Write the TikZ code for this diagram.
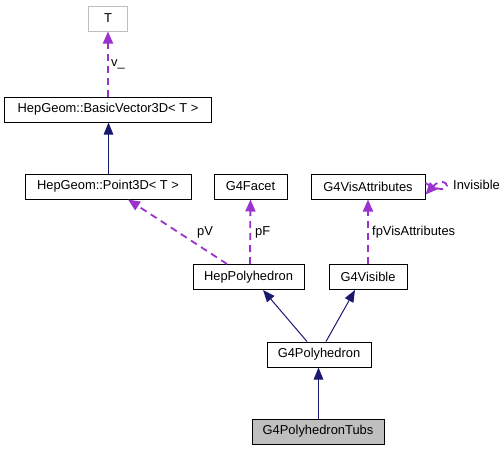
\documentclass[tikz,border=0pt]{standalone}
\usepackage{fontspec}
\setmainfont{Liberation Sans}
\usetikzlibrary{arrows.meta,calc}
\definecolor{inh}{HTML}{191970}
\definecolor{usg}{HTML}{9A32CD}
\definecolor{graybd}{HTML}{BFBFBF}
\tikzset{
  cls/.style={draw=black,line width=1pt,fill=white,inner sep=0pt,font=\fontsize{12.9}{15}\selectfont,minimum height=25pt},
  inhedge/.style={draw=inh,line width=1pt,-{Triangle[length=12pt,width=9.5pt]}},
  useedge/.style={draw=usg,line width=1.8pt,dash pattern=on 7pt off 5pt,-{Triangle[length=12pt,width=10pt,fill=usg]}},
  lbl/.style={inner sep=0pt,font=\fontsize{12.9}{15}\selectfont}
}
\begin{document}
\begin{tikzpicture}[x=1pt,y=-1pt]
\useasboundingbox (0,0) rectangle (504,451);
\node[cls,draw=graybd,minimum width=39pt] (T) at (108,18.5) {T};
\node[cls,minimum width=207pt] (bv) at (108,109.5) {HepGeom::BasicVector3D< T >};
\node[cls,minimum width=166pt] (pt) at (108,186.5) {HepGeom::Point3D< T >};
\node[cls,minimum width=73pt] (facet) at (250.5,186.5) {G4Facet};
\node[cls,minimum width=114pt] (vis) at (368,186.5) {G4VisAttributes};
\node[cls,minimum width=111pt] (hep) at (248.5,277) {HepPolyhedron};
\node[cls,minimum width=78pt] (g4v) at (368,277) {G4Visible};
\node[cls,minimum width=104pt] (g4p) at (319,354.5) {G4Polyhedron};
\node[cls,fill=graybd,minimum width=132pt] (tubs) at (318,431.5) {G4PolyhedronTubs};

\draw[useedge] (bv.north) -- (T.south);
\node[lbl,anchor=west] (lv) at (111,64) {v\_};
\draw[inhedge] ([xshift=0.5pt]pt.north) -- ([xshift=0.5pt]bv.south);
\draw[useedge] ([xshift=-21.5pt]hep.north) -- ([xshift=20pt]pt.south);
\node[lbl] (lpv) at (205,232) {pV};
\draw[useedge] ([xshift=1.5pt]hep.north) -- (facet.south);
\node[lbl,anchor=west] (lpf) at (255,232) {pF};
\draw[useedge] (g4v.north) -- (vis.south);
\node[lbl,anchor=west] (lfp) at (372,232) {fpVisAttributes};
\coordinate (loopr) at (447,186);
\draw[useedge] ([yshift=3.5pt]vis.east) .. controls (438,191) and (447,190) .. (loopr) .. controls (447,182) and (440,179) .. ([yshift=-8pt]vis.east);
\node[lbl,anchor=west] (linv) at (453,185) {Invisible};
\draw[inhedge] ([xshift=-12pt]g4p.north) -- ([xshift=14.5pt]hep.south);
\draw[inhedge] ([xshift=7pt]g4p.north) -- ([xshift=-13pt]g4v.south);
\draw[inhedge] ([xshift=0.5pt]tubs.north) -- ([xshift=-0.5pt]g4p.south);
\end{tikzpicture}
\end{document}
